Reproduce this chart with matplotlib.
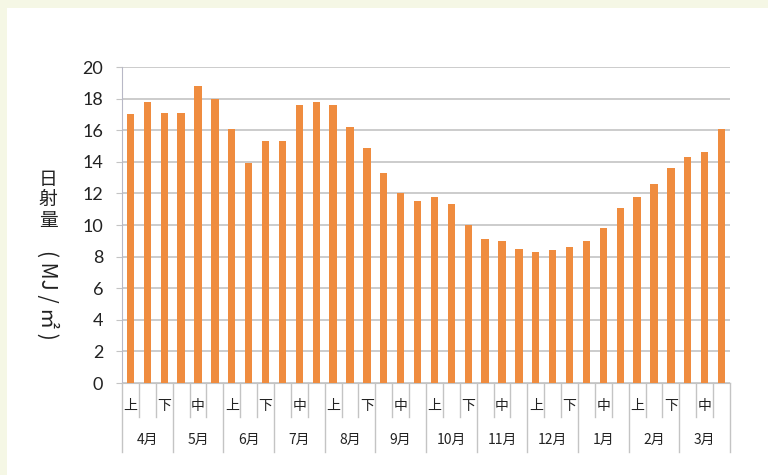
import matplotlib
matplotlib.use('Agg')
import matplotlib.pyplot as plt
import matplotlib.transforms as mtransforms
from matplotlib.patches import Rectangle

plt.rcParams['font.family'] = ['Noto Sans CJK JP', 'DejaVu Sans']

# データ（4月上旬〜3月下旬の旬別日射量）
months = ['4月', '5月', '6月', '7月', '8月', '9月',
          '10月', '11月', '12月', '1月', '2月', '3月']
thirds = ['上', '中', '下']
values = [17.0, 17.8, 17.1, 17.1, 18.8, 18.0,
          16.1, 13.9, 15.3, 15.3, 17.6, 17.8,
          17.6, 16.2, 14.9, 13.3, 12.0, 11.5,
          11.8, 11.3, 10.0, 9.1, 9.0, 8.5,
          8.3, 8.4, 8.6, 9.0, 9.8, 11.1,
          11.8, 12.6, 13.6, 14.3, 14.6, 16.1]
yticks = [0, 2, 4, 6, 8, 10, 12, 14, 16, 18, 20]

bar_color = '#EF8C3F'
grid_color = '#c4c4c4'

fig = plt.figure(figsize=(7.68, 4.75), dpi=100, facecolor='#F5F7E5')
# 白いパネル
fig.patches.append(Rectangle((7/768, 0), 1, 1 - 8/475, transform=fig.transFigure,
                             facecolor='white', edgecolor='none', zorder=-10))

ax = fig.add_axes([122/768, 1 - 383/475, (730 - 122)/768, (383 - 67)/475])
ax.set_zorder(2)
ax.set_facecolor('white')

x = list(range(len(values)))
ax.bar(x, values, width=0.44, color=bar_color, zorder=3)

ax.set_xlim(-0.5, len(values) - 0.5)
ax.set_ylim(0, 20)
ax.set_yticks(yticks)
ax.yaxis.grid(True, color=grid_color, linewidth=1.2, zorder=0)
ax.set_axisbelow(True)
for s in ['top', 'right']:
    ax.spines[s].set_visible(False)
ax.spines['left'].set_color('#b8b8c6')
ax.spines['bottom'].set_color(grid_color)
ax.tick_params(axis='y', length=4.5, color=grid_color, pad=9,
               labelsize=13, labelcolor='#222222')
for lab in ax.get_yticklabels():
    lab.set_family('Lato')
ax.set_xticks([])

# 多段の項目ラベル
trans = mtransforms.blended_transform_factory(ax.transData, ax.transAxes)
row1 = -0.1076
row2 = -0.218
for i in range(len(values) + 1):
    b = i - 0.5
    y_end = row2 if i % 3 == 0 else row1
    ax.plot([b, b], [0, y_end], transform=trans, color=grid_color,
            linewidth=1, clip_on=False)
for i in range(0, len(values), 2):
    ax.text(i, -0.074, thirds[i % 3], transform=trans, ha='center', va='center',
            fontsize=10, color='#222222')
for m, name in enumerate(months):
    ax.text(3 * m + 1, -0.18, name, transform=trans, ha='center', va='center',
            fontsize=10, color='#222222')

# 縦書きの軸ラベル
fig.text(48/768, 1 - 200/475, '日\n射\n量', ha='center', va='center',
         fontsize=13.5, linespacing=0.95, color='#222222')
fig.text(47/768, 1 - 250/475, '( MJ / ㎡ )', rotation=-90, ha='center', va='top',
         fontsize=15, color='#222222')

fig.savefig('out.png', dpi=100, facecolor=fig.get_facecolor())
